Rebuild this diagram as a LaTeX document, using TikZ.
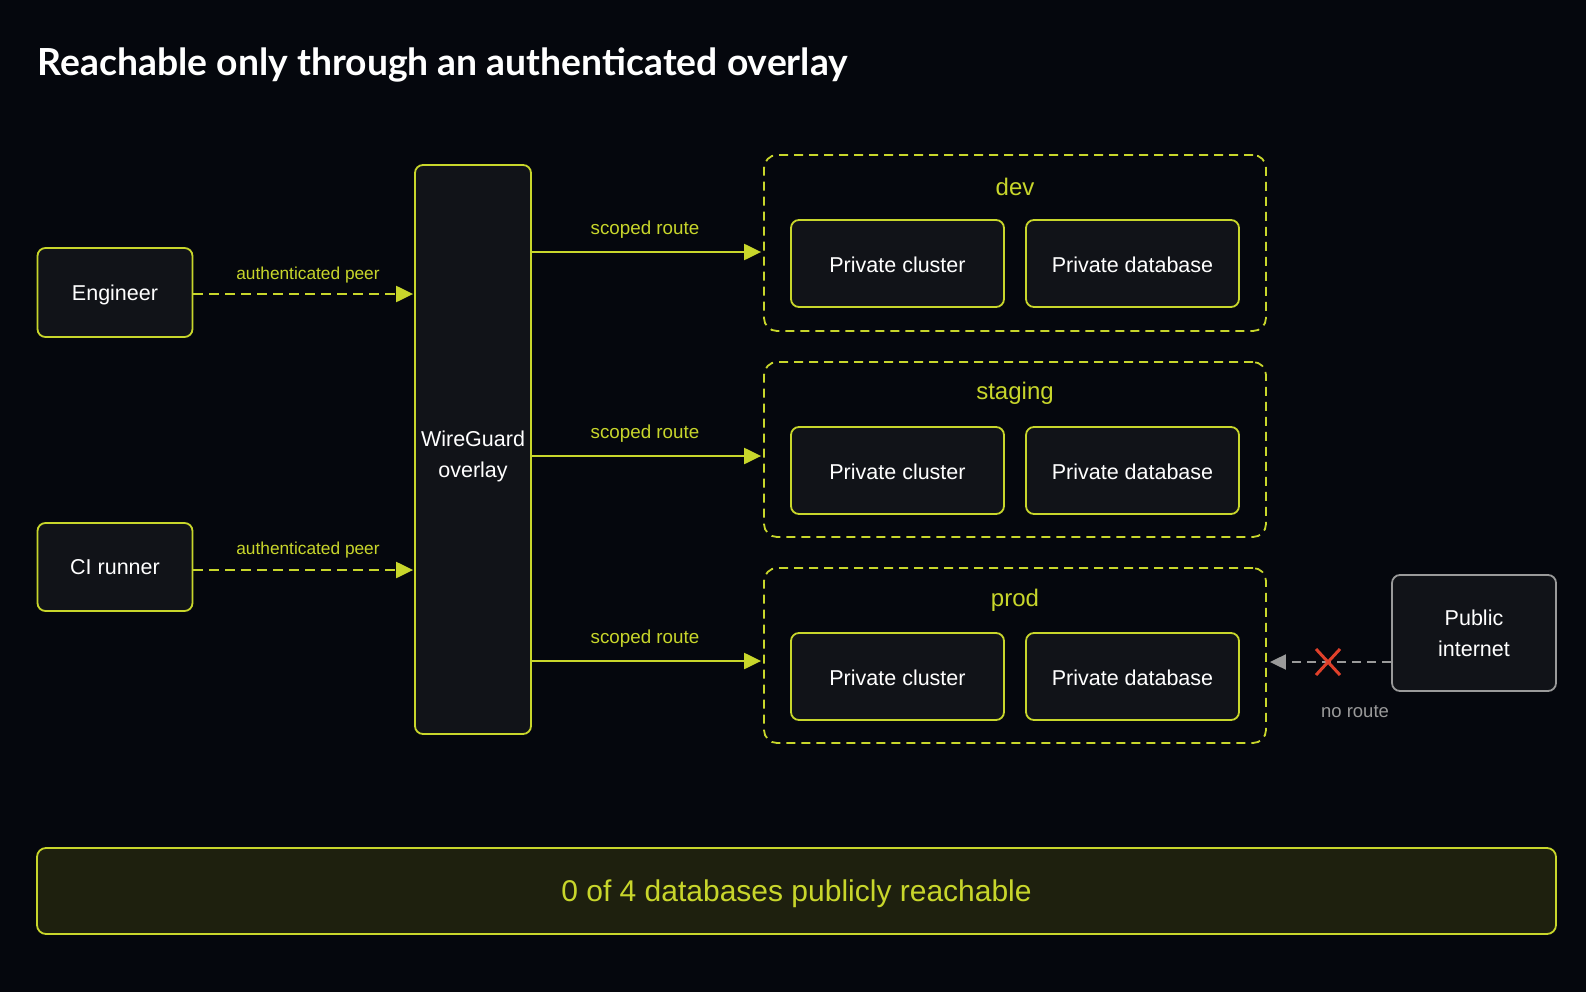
\documentclass[tikz,border=0pt]{standalone}
\usepackage{fontspec}
\setmainfont{Liberation Sans}
\newfontfamily\titlefont{Lato}
\usetikzlibrary{arrows.meta}
\definecolor{bg}{HTML}{05070D}
\definecolor{boxfill}{HTML}{111318}
\definecolor{lime}{HTML}{C8D62B}
\definecolor{barfill}{HTML}{1E200E}
\definecolor{grayline}{HTML}{9A9A9A}
\definecolor{xred}{HTML}{E0402A}
\tikzset{
  box/.style={draw=lime, line width=1.8pt, fill=boxfill, rounded corners=8pt, text=white, inner sep=0pt, align=center, font=\fontsize{21.5}{31}\selectfont},
  env/.style={draw=lime, line width=1.8pt, dash pattern=on 9pt off 6pt, rounded corners=13pt, inner sep=0pt},
  envlabel/.style={text=lime, font=\fontsize{24}{28}\selectfont},
  peer/.style={draw=lime, line width=2.2pt, dash pattern=on 10pt off 6pt, -{Triangle[length=17pt,width=16pt]}},
  route/.style={draw=lime, line width=2.2pt, -{Triangle[length=17pt,width=16pt]}},
  elabel/.style={text=lime, font=\fontsize{17.3}{20}\selectfont},
  rlabel/.style={text=lime, font=\fontsize{18.8}{22}\selectfont},
}
\begin{document}
\begin{tikzpicture}[x=1pt,y=-1pt]
\fill[bg] (0,0) rectangle (1586,992);
\useasboundingbox (0,0) rectangle (1586,992);

\node[anchor=base west, text=white, font=\titlefont\bfseries\fontsize{37.3}{44}\selectfont, inner sep=0pt] (title) at (37.5,76) {Reachable only through an authenticated overlay};

% left nodes
\node[box, minimum width=155pt, minimum height=89pt, text depth=0pt, text height=15pt] (eng) at (115,292.5) {Engineer};
\node[box, minimum width=155pt, minimum height=88pt, text depth=0pt, text height=15pt] (ci) at (115,567) {CI runner};
\node[box, minimum width=116pt, minimum height=569pt] (wg) at (473,449.5) {};
\node[text=white, align=center, font=\fontsize{21.5}{31}\selectfont] (wgl) at (473,456) {WireGuard\\overlay};

% environments
\node[env, minimum width=502pt, minimum height=176pt] (dev) at (1015,243) {};
\node[env, minimum width=502pt, minimum height=175pt] (stg) at (1015,449.5) {};
\node[env, minimum width=502pt, minimum height=175pt] (prd) at (1015,655.5) {};
\node[envlabel] (devl) at (1015,187) {dev};
\node[envlabel] (stgl) at (1015,393.5) {staging};
\node[envlabel] (prdl) at (1015,600) {prod};

\tikzset{inner/.style={box, minimum width=213pt, minimum height=87pt, text depth=0pt, text height=18pt}}
\node[inner] (devc) at (897.5,263.5) {Private cluster};
\node[inner] (devd) at (1132.5,263.5) {Private database};
\node[inner] (stgc) at (897.5,470.5) {Private cluster};
\node[inner] (stgd) at (1132.5,470.5) {Private database};
\node[inner] (prdc) at (897.5,676.5) {Private cluster};
\node[inner] (prdd) at (1132.5,676.5) {Private database};

% public internet
\node[box, draw=grayline, minimum width=164pt, minimum height=116pt] (pub) at (1474,633) {Public\\internet};

% bottom bar
\node[box, fill=barfill, rounded corners=9pt, minimum width=1519pt, minimum height=86pt, text=lime, font=\fontsize{30}{34}\selectfont, text depth=0pt, text height=20pt] (bar) at (796.5,891) {0 of 4 databases publicly reachable};

% row coordinates
\coordinate (p1) at (0,294);
\coordinate (p2) at (0,570);
\coordinate (r1) at (0,252);
\coordinate (r2) at (0,456);
\coordinate (r3) at (0,661);
\coordinate (r4) at (0,662);

% peer arrows
\draw[peer] (eng.east |- p1) -- ([xshift=-1pt]wg.west |- p1);
\draw[peer] (ci.east |- p2) -- ([xshift=-1pt]wg.west |- p2);
\node[elabel] (pl1) at (308,275) {authenticated peer};
\node[elabel] (pl2) at (308,550) {authenticated peer};

% scoped routes
\draw[route] (wg.east |- r1) -- ([xshift=-2pt]dev.west |- r1);
\draw[route] (wg.east |- r2) -- ([xshift=-2pt]stg.west |- r2);
\draw[route] (wg.east |- r3) -- ([xshift=-2pt]prd.west |- r3);
\node[rlabel] (rl1) at (645,230) {scoped route};
\node[rlabel] (rl2) at (645,434) {scoped route};
\node[rlabel] (rl3) at (645,639) {scoped route};

% no route
\draw[draw=grayline, line width=2pt, dash pattern=on 9pt off 6pt, -{Triangle[length=16pt,width=15pt]}] (pub.west |- r4) -- ([xshift=3pt]prd.east |- r4);
\coordinate (xm) at (1328,662);
\draw[xred, line width=3pt] (xm) ++(-12,-13) -- ++(24,26);
\draw[xred, line width=3pt] (xm) ++(12,-13) -- ++(-24,26);
\node[text=grayline, font=\fontsize{18.5}{22}\selectfont] (nr) at (1355,712) {no route};
\end{tikzpicture}
\end{document}
